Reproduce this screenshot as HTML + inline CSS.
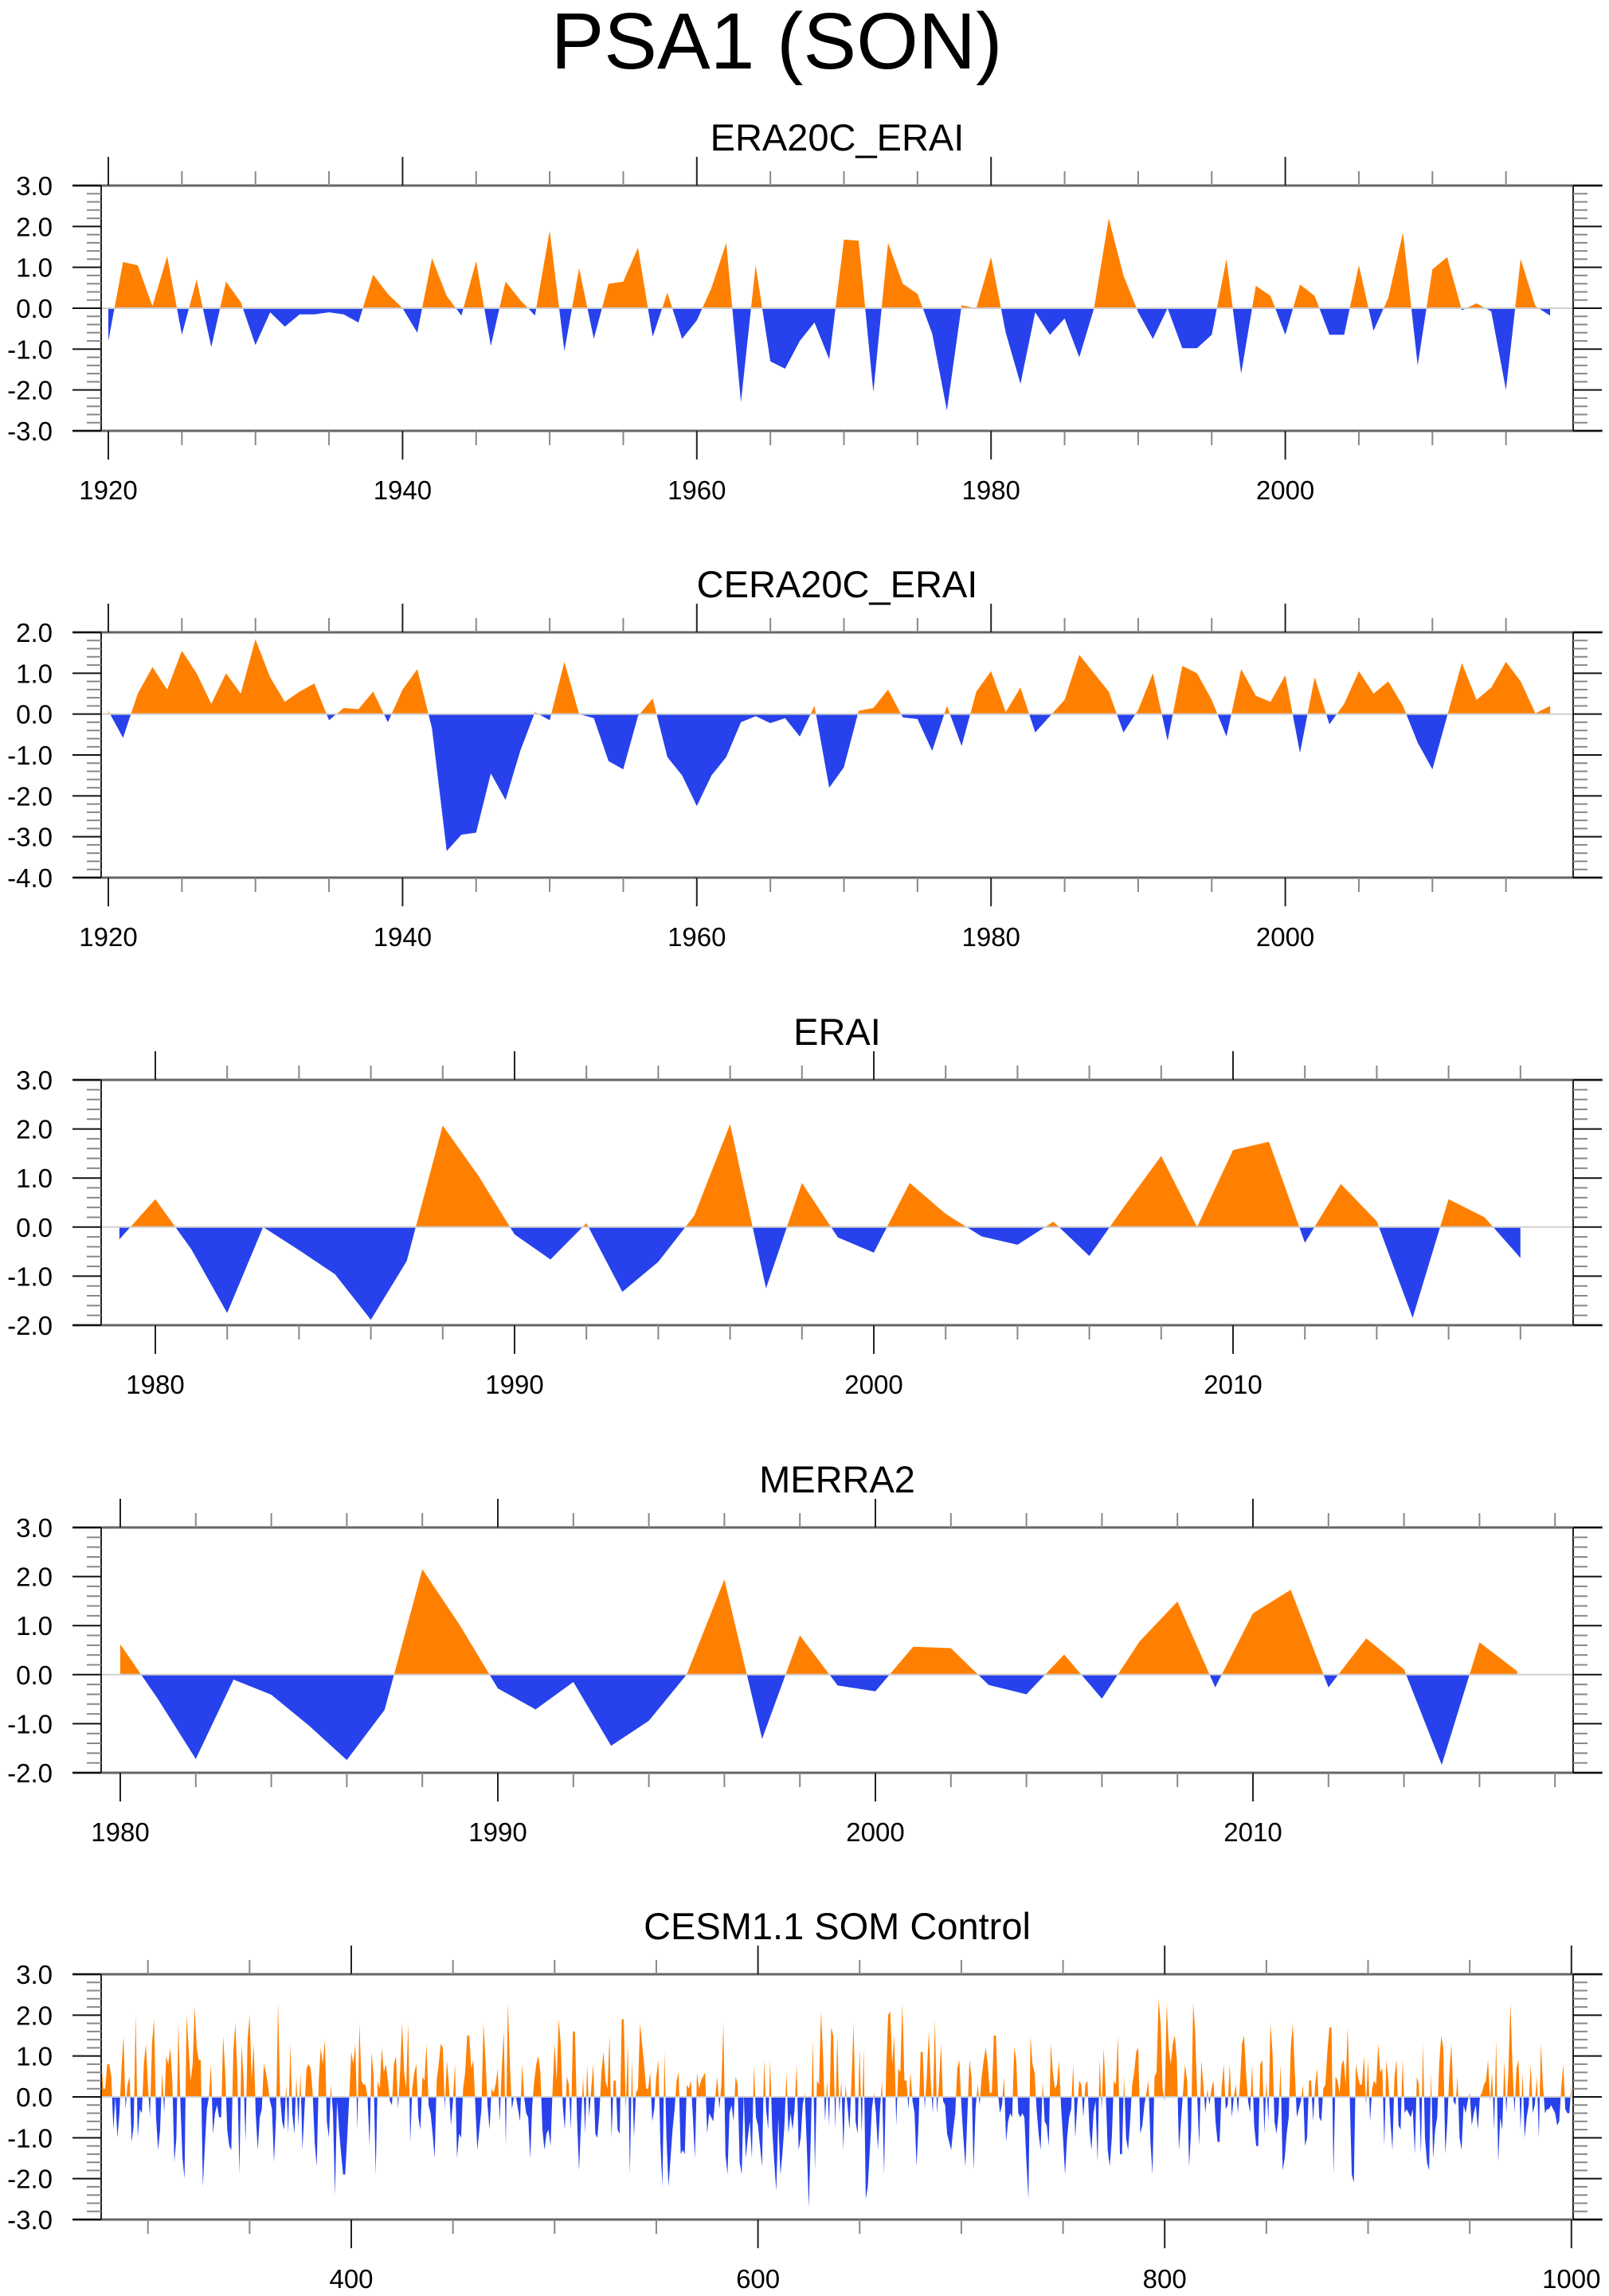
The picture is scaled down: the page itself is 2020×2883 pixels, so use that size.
<!DOCTYPE html>
<html><head><meta charset="utf-8"><title>PSA1 (SON)</title>
<style>html,body{margin:0;padding:0;background:#fff}svg{display:block}text{font-family:"Liberation Sans",sans-serif;fill:#000}</style>
</head><body>
<svg id="fig" xmlns="http://www.w3.org/2000/svg" width="2020" height="2883" viewBox="0 0 2020 2883">
<rect width="2020" height="2883" fill="#fff"/>
<text x="975" y="86" font-size="100" text-anchor="middle">PSA1 (SON)</text>
</svg>
<script>
const era20cValues = [-0.8,1.13,1.05,0.05,1.27,-0.65,0.7,-0.95,0.65,0.15,-0.9,-0.1,-0.45,-0.15,-0.15,-0.1,-0.15,-0.35,0.82,0.35,0.0,-0.6,1.22,0.3,-0.18,1.15,-0.92,0.65,0.2,-0.18,1.9,-1.05,0.98,-0.75,0.6,0.65,1.48,-0.7,0.38,-0.75,-0.3,0.5,1.6,-2.3,1.05,-1.3,-1.48,-0.8,-0.35,-1.25,1.68,1.65,-2.05,1.6,0.6,0.35,-0.62,-2.5,0.07,0.0,1.25,-0.6,-1.85,-0.1,-0.65,-0.25,-1.2,0.0,2.2,0.8,-0.1,-0.75,0.0,-0.98,-0.98,-0.65,1.2,-1.6,0.55,0.3,-0.65,0.58,0.3,-0.65,-0.65,1.05,-0.55,0.25,1.85,-1.4,0.95,1.25,-0.05,0.12,-0.08,-2.0,1.2,0.05,-0.18];
const cera20cValues = [0.08,-0.58,0.5,1.15,0.6,1.55,1.0,0.25,1.0,0.5,1.83,0.9,0.3,0.55,0.75,-0.15,0.15,0.12,0.55,-0.2,0.6,1.1,-0.35,-3.35,-2.95,-2.9,-1.45,-2.1,-0.9,0.05,-0.15,1.28,0.0,-0.1,-1.15,-1.35,-0.05,0.38,-1.05,-1.5,-2.25,-1.5,-1.05,-0.2,-0.05,-0.22,-0.1,-0.55,0.2,-1.8,-1.3,0.08,0.15,0.6,-0.08,-0.12,-0.9,0.2,-0.78,0.55,1.05,0.05,0.65,-0.45,-0.05,0.35,1.45,1.0,0.55,-0.45,0.1,1.0,-0.65,1.18,1.0,0.35,-0.55,1.1,0.45,0.3,0.95,-0.95,0.9,-0.25,0.25,1.05,0.5,0.8,0.2,-0.7,-1.35,-0.05,1.25,0.35,0.65,1.28,0.8,0.02,0.2];
const eraiValues = [-0.25,0.57,-0.45,-1.75,0.0,-0.47,-0.96,-1.89,-0.69,2.07,1.04,-0.15,-0.66,0.08,-1.32,-0.71,0.23,2.1,-1.25,0.9,-0.21,-0.52,0.9,0.27,-0.19,-0.36,0.11,-0.59,0.45,1.45,0.0,1.57,1.74,-0.32,0.88,0.12,-1.85,0.57,0.2,-0.63];
const merra2Values = [0.62,-0.5,-1.72,-0.1,-0.41,-1.04,-1.74,-0.72,2.15,1.0,-0.28,-0.71,-0.15,-1.45,-0.94,0.0,1.94,-1.31,0.8,-0.22,-0.34,0.57,0.54,-0.21,-0.4,0.41,-0.49,0.68,1.49,-0.26,1.25,1.73,-0.26,0.74,0.11,-1.84,0.66,0.07];
const cesmValues = [
0.9,0.2,0.2,0.8,0.8, 0.5,-0.8,0.0,-1.0,-0.4, 0.7,1.5,-0.3,0.3,0.5, -1.1,-0.7,2.0,-1.0,-0.3,
-0.4,0.8,1.3,0.3,-0.5, 1.3,1.9,-0.5,-1.3,-0.8, 0.6,-0.4,1.0,0.8,1.2, 0.4,-1.6,-1.0,1.8,-0.2,
-1.5,-2.0,2.0,1.2,0.4, 0.8,2.2,1.2,0.9,0.9, -2.2,-1.2,-0.3,0.0,0.8, -0.9,-0.4,-0.2,-0.5,-0.5,
1.5,0.6,-0.8,-1.2,-1.3, 1.1,1.8,0.5,-1.9,1.3, 0.5,-1.1,1.4,2.0,0.4, 1.3,-0.4,-1.3,-0.5,-0.3,
0.8,0.6,0.3,-0.1,-0.3, -1.6,-0.5,2.3,0.0,-0.6, -0.8,0.3,-0.9,1.3,-0.4, -0.9,0.5,-0.7,0.6,-1.3,
-0.3,0.7,0.8,0.7,0.1, -1.1,-1.7,0.4,1.2,0.8, 1.4,-0.6,-1.0,0.3,-0.4, -2.4,-0.1,-0.8,-1.4,-1.9,
-1.9,-1.0,0.0,1.1,0.8, 1.3,-0.8,1.8,0.4,0.3, 0.3,0.0,-1.2,1.1,0.5, -1.9,0.4,0.2,1.2,0.6,
0.8,0.4,-0.1,-0.2,0.8, 1.0,-0.3,0.6,1.8,0.6, 0.2,1.8,-1.1,0.2,0.6, 0.8,-0.5,-0.8,0.5,0.4,
1.3,-0.2,-0.4,-0.9,-1.5, 0.4,0.8,1.3,1.2,-0.3, 0.9,0.3,-0.7,-0.1,0.8, -1.5,-0.9,-1.0,0.2,0.6,
1.5,1.5,0.7,0.9,-0.2, -1.3,-0.8,-0.3,1.8,0.9, -0.2,-0.8,0.2,0.1,0.3, 0.7,-0.6,0.7,1.6,-1.2,
2.3,0.8,-0.3,0.0,0.0, -0.3,-0.6,0.8,0.0,-0.4, -0.5,-1.5,-0.2,0.4,0.8, 1.0,0.6,-0.8,-1.3,-0.9,
-0.8,-1.2,0.2,1.3,0.4, 1.9,1.3,-0.2,-0.8,0.5, 0.3,-0.8,1.6,1.6,-0.5, -1.8,-0.6,0.5,-0.9,0.8,
-0.5,0.2,0.8,-0.9,-1.0,
-0.4,0.6,1.1,0.4,0.2, 1.5,-1.0,0.4,0.4,-0.8, -0.9,1.9,1.9,-0.3,1.3, -1.9,0.9,-1.0,0.1,0.2,
1.8,1.3,0.8,0.2,0.2, 0.6,-0.6,-0.3,0.5,0.9, -1.1,-2.2,1.1,-1.0,-2.2, -1.5,-0.8,-0.3,0.4,0.6,
-1.4,-1.3,-1.4,0.3,0.2, 0.4,-0.5,-1.5,0.6,0.2, 0.4,0.5,0.6,-0.9,-0.4, -0.5,-0.6,0.0,0.5,-0.3,
0.3,1.8,-1.4,-1.9,-0.4, -0.2,-0.6,0.5,0.3,-1.6, -1.9,0.1,-1.5,-1.0,-0.6, -1.5,0.8,-0.5,-0.7,-1.2,
-1.7,0.9,-0.3,-0.8,0.9, -0.8,-1.6,-2.3,-0.5,-1.9, -1.4,-0.7,0.6,-0.9,-0.4, -0.8,-0.3,0.8,-1.3,-1.0,
-0.2,0.1,-1.2,-2.7,-0.9, 1.4,-1.8,0.4,0.3,2.1, 1.0,-0.6,0.4,-0.7,1.7, 1.5,-0.8,1.5,-0.4,0.4,
-1.3,0.3,-0.2,-0.8,0.4, 1.8,-0.6,-0.9,1.2,-0.9, 1.2,-2.5,-2.2,-1.3,-0.3, 0.1,-0.4,-1.3,-0.3,0.4,
-1.9,0.6,2.0,2.1,0.8, 1.5,-0.7,0.7,0.6,2.3, 0.4,0.4,-0.3,0.6,-0.1, -0.4,-1.7,-0.6,1.1,1.1,
-0.3,0.5,1.6,0.3,-0.4, 1.9,-0.4,0.3,1.3,-0.1, -0.2,-0.9,-1.1,-1.3,-0.8, -0.4,0.7,0.9,-0.2,-1.0,
-1.7,-0.4,0.9,0.5,-1.8, -0.3,0.3,-0.2,0.5,0.9, 1.2,0.8,0.1,0.1,1.5, 1.5,0.1,-0.4,-0.2,0.5,
-1.1,-0.6,-0.4,-0.5,1.2, 0.9,-0.4,-0.5,-0.4,-0.5, -1.6,-2.5,1.5,0.8,0.6, -0.3,-0.9,-1.3,0.4,-0.6,
-0.7,-1.2,1.3,0.6,0.2, 0.3,0.9,-0.2,-1.0,-1.9, -1.0,-0.5,-0.3,0.8,-1.0, -0.2,0.4,0.3,-0.5,0.3,
0.4,-0.8,-1.3,-0.4,-0.1, -1.6,0.9,-0.3,1.2,0.1, -1.3,-1.7,-1.0,0.4,0.3, 1.5,-1.4,-1.4,0.5,-1.0,
-1.3,-0.6,0.3,0.6,1.1, 1.2,-0.9,-0.7,-0.2,0.1, 0.4,-1.1,-1.9,0.5,0.6, 2.4,1.8,0.2,-0.1,2.3,
1.2,0.8,1.3,1.5,0.9, -1.3,-0.6,0.1,0.8,0.4, -1.7,-0.8,2.3,1.6,0.0, -1.2,0.9,0.3,-0.4,0.2,
-0.2,0.2,0.4,-0.6,-1.1, -1.1,0.2,0.8,-0.3,-0.2, 0.8,-0.5,0.0,0.3,-0.4, 0.3,1.3,1.5,0.6,-0.1,
-0.4,0.8,-0.7,-1.2,-1.2, 0.8,0.9,-0.9,0.4,-0.6, 1.8,1.1,-0.6,-0.9,-0.4, 0.8,-1.8,-1.5,-0.9,-0.5,
1.2,1.8,0.6,-0.5,-0.3, -0.1,0.3,-1.2,-1.0,0.4, 0.4,-0.6,0.3,0.7,-0.5, -0.6,0.2,0.3,1.1,1.7,
1.7,-1.9,0.5,0.4,0.1, 0.8,0.9,0.3,1.7,0.0, -1.9,-2.1,0.8,0.5,0.3, 0.3,1.0,-0.2,0.9,-0.6,
0.2,0.4,0.3,1.3,0.6, 0.7,-1.2,0.9,0.4,-0.6, -1.3,0.5,0.9,-0.7,-0.8, 0.9,-0.4,-0.3,-0.4,-0.5,
-0.3,-1.4,0.5,0.3,-1.4, 1.3,-1.0,-1.6,-1.8,0.6, -1.5,-0.8,-0.5,0.8,1.5, 1.2,-1.4,-0.6,0.6,1.3,
-0.1,-0.2,0.5,-1.0,-1.3, -0.2,-0.4,-0.1,0.1,-0.7, -0.4,-0.2,-0.8,0.0,0.1, 0.3,0.4,0.9,-0.1,0.6,
-0.8,1.4,-1.6,-0.5,-0.8, 0.9,-0.4,0.6,2.3,0.8, -0.4,0.7,0.9,-0.8,0.6, -1.0,-0.5,-0.2,0.8,-0.4,
-0.2,0.5,-1.0,1.3,0.3, -0.4,-0.3,-0.3,-0.2,-0.3, -0.4,-0.7,-0.6,0.2,0.8, -0.3,-0.4,-0.4,0.3];
const panelTitles = ["ERA20C_ERAI","CERA20C_ERAI","ERAI","MERRA2","CESM1.1 SOM Control"];
const panelStarts = [1920,1920,1979,1980,277];
const yRanges = [[-3,3],[-4,2],[-2,3],[-2,3],[-3,3]];
const xMajorLabels = [[1920,1940,1960,1980,2000],[1920,1940,1960,1980,2000],[1980,1990,2000,2010],[1980,1990,2000,2010],[400,600,800,1000]];
const seriesList = [era20cValues,cera20cValues,eraiValues,merra2Values,cesmValues];

const NS="http://www.w3.org/2000/svg";
const svg=document.getElementById('fig');
function mk(tag,attrs,parent){const e=document.createElementNS(NS,tag);for(const k in attrs)e.setAttribute(k,attrs[k]);(parent||svg).appendChild(e);return e;}
const tops=[233,794,1356,1918,2479];
const H=308,L=127,R=1975,EXT=37;
const xRef=[[1920,136,18.47,5],[1920,136,18.47,5],[1980,195,45.1,2],[1980,151,47.4,2],[400,441,2.553,50]];
const slugs=["era20c-erai","cera20c-erai","erai","merra2","cesm-som-control"];

for(let p=0;p<5;p++){
  const g=mk('g',{});
  
  
  const top=tops[p],bot=top+H;
  const [ymin,ymax]=yRanges[p];
  const yS=v=>bot-(v-ymin)/(ymax-ymin)*H;
  const [rv,rx,ppu,minStep]=xRef[p];
  const xS=v=>rx+(v-rv)*ppu;
  const zero=yS(0);
  const t=mk('text',{x:1051,y:top-44,'font-size':47,'text-anchor':'middle'},g);
  t.textContent=panelTitles[p];
  
  
  const data=seriesList[p],s0=panelStarts[p];
  let pts=xS(s0).toFixed(1)+','+zero.toFixed(1);
  data.forEach((v,i)=>{pts+=' '+xS(s0+i).toFixed(2)+','+yS(v).toFixed(2);});
  pts+=' '+xS(s0+data.length-1).toFixed(2)+','+zero.toFixed(1);
  const cidA='ca'+p,cidB='cb'+p;
  const defs=mk('defs',{},g);
  const c1=mk('clipPath',{id:cidA},defs);mk('rect',{x:0,y:0,width:2020,height:zero},c1);
  const c2=mk('clipPath',{id:cidB},defs);mk('rect',{x:0,y:zero,width:2020,height:3000},c2);
  const pos=mk('polygon',{points:pts,fill:'#ff8000','clip-path':'url(#'+cidA+')'},g);
  
  
  const neg=mk('polygon',{points:pts,fill:'#2742ec','clip-path':'url(#'+cidB+')'},g);
  
  
  const zl=mk('line',{x1:L,x2:R,y1:zero,y2:zero,stroke:'#cfcfcf','stroke-width':2},g);
  
  
  mk('line',{x1:L-EXT+1,x2:R+EXT,y1:top,y2:top,stroke:'#666','stroke-width':3},g);
  mk('line',{x1:L-EXT+1,x2:R+EXT,y1:bot,y2:bot,stroke:'#666','stroke-width':3},g);
  mk('line',{x1:L,x2:L,y1:top,y2:bot,stroke:'#222','stroke-width':2},g);
  mk('line',{x1:R,x2:R,y1:top,y2:bot,stroke:'#222','stroke-width':2},g);
  const nMinor=(ymax-ymin)*5;
  for(let i=0;i<=nMinor;i++){
    const v=ymin+i*0.2,y=yS(v),maj=(i%5===0);
    const len=maj?36:18,col=maj?'#111':'#888';
    mk('line',{x1:L-len,x2:L,y1:y,y2:y,stroke:col,'stroke-width':2},g);
    mk('line',{x1:R,x2:R+len,y1:y,y2:y,stroke:col,'stroke-width':2},g);
    if(maj){const lb=mk('text',{x:66,y:y+12,'font-size':33,'text-anchor':'end'},g);lb.textContent=(Math.round(v)).toFixed(1);
      
      }
  }
  const majors=xMajorLabels[p];
  const vmin=rv+(L-rx)/ppu, vmax=rv+(R-rx)/ppu;
  for(let v=Math.ceil(vmin/minStep)*minStep; v<=vmax; v+=minStep){
    const x=xS(v);
    if(majors.indexOf(v)>=0) continue;
    mk('line',{x1:x,x2:x,y1:top-18,y2:top,stroke:'#888','stroke-width':2},g);
    mk('line',{x1:x,x2:x,y1:bot,y2:bot+18,stroke:'#888','stroke-width':2},g);
  }
  majors.forEach(v=>{
    const x=xS(v);
    mk('line',{x1:x,x2:x,y1:top-36,y2:top,stroke:'#222','stroke-width':2},g);
    mk('line',{x1:x,x2:x,y1:bot,y2:bot+36,stroke:'#222','stroke-width':2},g);
    const lb=mk('text',{x:x,y:bot+86,'font-size':33,'text-anchor':'middle'},g);
    lb.textContent=String(v);
    
    
  });
}
</script>
</body></html>
